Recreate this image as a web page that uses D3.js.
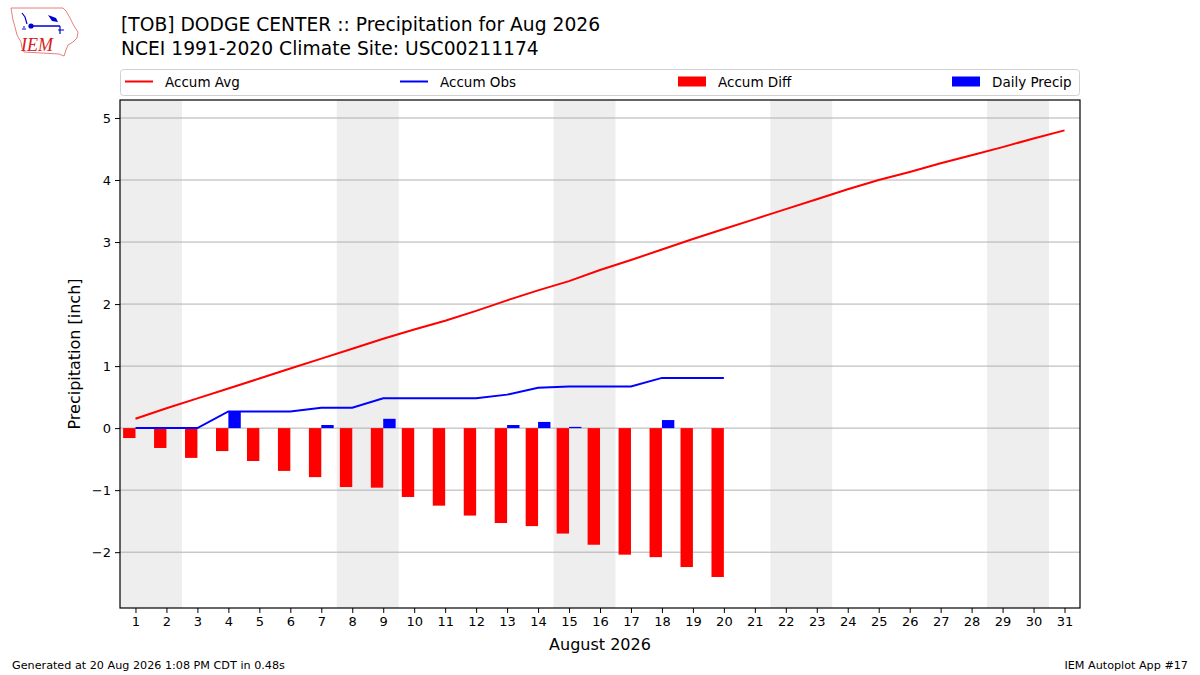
<!DOCTYPE html>
<html><head><meta charset="utf-8">
<script src="https://cdn.jsdelivr.net/npm/d3@7"></script>
<style>
body{margin:0;background:#fff;}
svg{display:block;font-family:"DejaVu Sans",sans-serif;}
</style></head>
<body><svg id="c" width="1200" height="675"></svg>
<script>
// ---- data ----
const titleLines = ["[TOB] DODGE CENTER :: Precipitation for Aug 2026", "NCEI 1991-2020 Climate Site: USC00211174"];
const days = d3.range(1, 32);
const accumAvg = [0.15,0.32,0.48,0.64,0.80,0.96,1.12,1.28,1.44,1.59,1.73,1.89,2.06,2.22,2.37,2.55,2.71,2.88,3.05,3.21,
                  3.37,3.53,3.69,3.85,4.00,4.13,4.27,4.40,4.53,4.67,4.80];
const obsDays = d3.range(1, 21);
const accumObs = [0,0,0,0.27,0.27,0.27,0.33,0.33,0.48,0.48,0.48,0.48,0.54,0.65,0.67,0.67,0.67,0.81,0.81,0.81];
const accumDiff = [-0.16,-0.32,-0.48,-0.37,-0.53,-0.69,-0.79,-0.95,-0.96,-1.11,-1.25,-1.41,-1.53,-1.58,-1.70,-1.88,-2.04,-2.08,-2.24,-2.40];
const dailyPrecip = [0,0,0,0.27,0,0,0.05,0,0.15,0,0,0,0.05,0.10,0.02,0,0,0.13,0,0];
const yTicks = [-2,-1,0,1,2,3,4,5];
const legendLabels = ["Accum Avg","Accum Obs","Accum Diff","Daily Precip"];
const xLabel = "August 2026";
const yLabel = "Precipitation [inch]";
const footLeft = "Generated at 20 Aug 2026 1:08 PM CDT in 0.48s";
const footRight = "IEM Autoplot App #17";

const RED = "#ff0000", BLUE = "#0000ff";
const svg = d3.select("#c");
const L = 120, R = 1080, T = 100, B = 608;
const x = d3.scaleLinear().domain([0.5, 31.5]).range([L, R]);
const y = d3.scaleLinear().domain([-2.9, 5.29]).range([B, T]);

// weekend shading (Saturday+Sunday pairs as one band)
const saturdays = days.filter(d => new Date(2026, 7, d).getDay() === 6);
svg.append("g").selectAll("rect").data(saturdays).join("rect")
  .attr("x", d => x(d - 0.5)).attr("width", d => x(Math.min(d + 1.5, 31.5)) - x(d - 0.5))
  .attr("y", T).attr("height", B - T).attr("fill", "#eeeeee");

// grid
svg.append("g").selectAll("line").data(yTicks).join("line")
  .attr("x1", L).attr("x2", R).attr("y1", d => y(d)).attr("y2", d => y(d))
  .attr("stroke", "#b0b0b0").attr("stroke-width", 1);

// bars
svg.append("g").selectAll("rect").data(obsDays).join("rect")
  .attr("x", d => x(d - 0.4)).attr("width", d => x(d) - x(d - 0.4))
  .attr("y", (d, i) => y(Math.max(0, accumDiff[i])))
  .attr("height", (d, i) => Math.abs(y(accumDiff[i]) - y(0)))
  .attr("fill", RED);
svg.append("g").selectAll("rect").data(obsDays).join("rect")
  .attr("x", d => x(d)).attr("width", d => x(d + 0.4) - x(d))
  .attr("y", (d, i) => y(dailyPrecip[i]))
  .attr("height", (d, i) => y(0) - y(dailyPrecip[i]))
  .attr("fill", BLUE);

// lines
const line = d3.line().x(d => x(d[0])).y(d => y(d[1]));
svg.append("path").datum(days.map((d, i) => [d, accumAvg[i]])).attr("d", line)
  .attr("fill", "none").attr("stroke", RED).attr("stroke-width", 2);
svg.append("path").datum(obsDays.map((d, i) => [d, accumObs[i]])).attr("d", line)
  .attr("fill", "none").attr("stroke", BLUE).attr("stroke-width", 2);

// frame
svg.append("rect").attr("x", L).attr("y", T).attr("width", R - L).attr("height", B - T)
  .attr("fill", "none").attr("stroke", "#000").attr("stroke-width", 1.2);

// axes
const fmt = d => (d < 0 ? "\u2212" + Math.abs(d) : "" + d);
const yAxis = svg.append("g").attr("transform", `translate(${L},0)`)
  .call(d3.axisLeft(y).tickValues(yTicks).tickFormat(fmt).tickSizeOuter(0).tickSize(5).tickPadding(4));
const xAxis = svg.append("g").attr("transform", `translate(0,${B})`)
  .call(d3.axisBottom(x).tickValues(days).tickFormat(d => d).tickSizeOuter(0).tickSize(5).tickPadding(4));
[xAxis, yAxis].forEach(a => {
  a.select(".domain").remove();
  a.selectAll("text").attr("font-family", "DejaVu Sans").attr("font-size", 13).attr("fill", "#000");
  a.selectAll("line").attr("stroke", "#000").attr("stroke-width", 1);
});

svg.append("text").attr("x", 600).attr("y", 650).attr("text-anchor", "middle")
  .attr("font-size", 16).text(xLabel);
svg.append("text").attr("transform", "translate(80,354) rotate(-90)").attr("text-anchor", "middle")
  .attr("font-size", 16).text(yLabel);

// title
svg.append("g").selectAll("text").data(titleLines).join("text")
  .attr("x", 121).attr("y", (d, i) => 31 + i * 23.5).attr("font-size", 18.7).text(d => d);

// legend
const lg = svg.append("g");
lg.append("rect").attr("x", 120.5).attr("y", 69.5).attr("width", 959).attr("height", 26).attr("rx", 3)
  .attr("fill", "#fff").attr("stroke", "#d0d0d0");
const legX = [125, 400, 678, 952];
legendLabels.forEach((lab, i) => {
  const gx = legX[i];
  if (i < 2) {
    lg.append("line").attr("x1", gx).attr("x2", gx + 28).attr("y1", 81.5).attr("y2", 81.5)
      .attr("stroke", i === 0 ? RED : BLUE).attr("stroke-width", 2);
  } else {
    lg.append("rect").attr("x", gx).attr("y", 76.5).attr("width", 28).attr("height", 10)
      .attr("fill", i === 2 ? RED : BLUE);
  }
  lg.append("text").attr("x", gx + 40).attr("y", 86.5).attr("font-size", 13.5).text(lab);
});

// footer
svg.append("text").attr("x", 12).attr("y", 669).attr("font-size", 11.2).text(footLeft);
svg.append("text").attr("x", 1188).attr("y", 669).attr("font-size", 11.2).attr("text-anchor", "end").text(footRight);

// logo
const logo = svg.append("g");
logo.append("path").attr("d", "M11,8 L63,8 L66,11 L70,18 L74,26 L78,32 L77,38 L73,42 L68,45 L66,50 L64,56 L59,54 L24,52 L22,48 L21,42 L17,35 L15,27 L13,20 L12,14 Z")
  .attr("fill", "none").attr("stroke", "#e06060").attr("stroke-width", 0.8);
logo.append("line").attr("x1", 31).attr("x2", 60).attr("y1", 26).attr("y2", 26).attr("stroke", "#0000cc").attr("stroke-width", 1.5);
logo.append("circle").attr("cx", 31).attr("cy", 26).attr("r", 2.6).attr("fill", "#0000cc");
logo.append("path").attr("d", "M48,15 L56,18 L58,22 L52,21 Z").attr("fill", "#0000cc");
logo.append("path").attr("d", "M22,13 L25,17 L27,24 M60,26 L60,34 M58,30 L64,30").attr("stroke", "#0000cc").attr("fill", "none").attr("stroke-width", 1.2);
logo.append("path").attr("d", "M23,27 L25,27 M22,29 L26,29").attr("stroke", "#0000cc").attr("stroke-width", 1);
logo.append("text").attr("x", 21).attr("y", 51).attr("font-family", "Liberation Serif, serif").attr("font-style", "italic")
  .attr("font-size", 18).attr("fill", "#d42020").text("IEM");
</script></body></html>
